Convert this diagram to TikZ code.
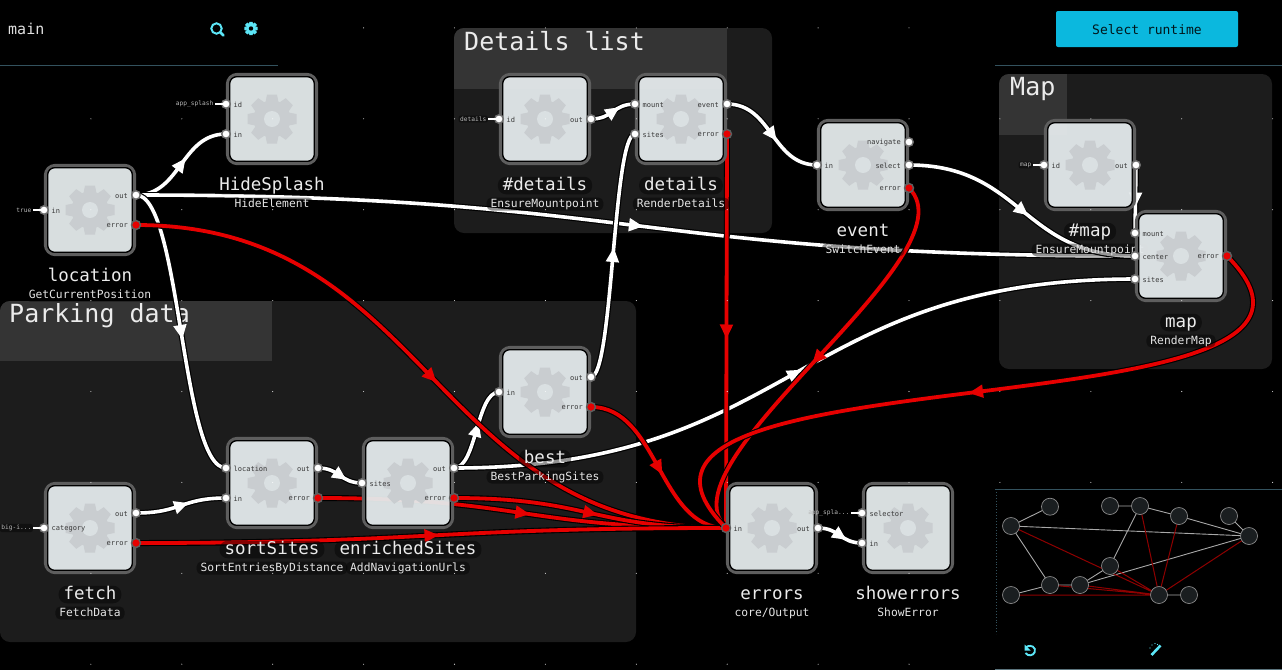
\documentclass[tikz,border=0pt]{standalone}
\usepackage{fontspec}
\setmainfont{DejaVu Sans Mono}
\usetikzlibrary{calc,decorations.markings}
\pgfdeclarelayer{groupsl}
\pgfdeclarelayer{wiresl}
\pgfsetlayers{groupsl,wiresl,main}
\definecolor{grpbg}{HTML}{1C1C1C}
\definecolor{grphd}{HTML}{343434}
\definecolor{ringc}{HTML}{5E5E5E}
\definecolor{nodefc}{HTML}{E4EAEC}
\definecolor{holec}{HTML}{DAE0E2}
\definecolor{gearc}{HTML}{C9CDD0}
\definecolor{redwire}{HTML}{E60000}
\definecolor{cyanic}{HTML}{5CE6F7}
\definecolor{linec}{HTML}{33525E}
\definecolor{btnc}{HTML}{0BB8DE}
\definecolor{mmnode}{HTML}{1A1E20}
\definecolor{mmred}{HTML}{8E0000}
\definecolor{mmgray}{HTML}{A8A8A8}
\tikzset{
  x=1pt,y=-1pt,
  flowbox/.style={draw=ringc,line width=3.2pt,rounded corners=10pt,minimum size=89.2pt,inner sep=0pt,fill=none},
  portw/.style={circle,fill=white,draw=ringc!90!white,line width=1.4pt,minimum size=8.5pt,inner sep=0pt},
  portr/.style={circle,fill=redwire,draw=ringc,line width=1.4pt,minimum size=9pt,inner sep=0pt},
  portlab/.style={text=black!78,font=\fontsize{7}{8}\selectfont,inner sep=0pt},
  namelab/.style={text=white!92!black,font=\fontsize{17.5}{20}\selectfont,fill=black,fill opacity=.42,text opacity=1,rounded corners=8pt,inner xsep=5pt,inner ysep=1.5pt,text height=12pt,text depth=2.5pt},
  sublab/.style={text=white!90!black,font=\fontsize{11.3}{13}\selectfont,fill=black,fill opacity=.42,text opacity=1,rounded corners=5pt,inner xsep=4pt,inner ysep=1pt,text height=8.5pt,text depth=2.5pt},
  extlab/.style={text=white!72!black,font=\fontsize{6.2}{7}\selectfont,fill=black,fill opacity=.42,text opacity=1,rounded corners=2pt,inner xsep=1.5pt,inner ysep=1pt},
  extbare/.style={text=white!72!black,font=\fontsize{6.2}{7}\selectfont,inner xsep=1.5pt,inner ysep=1pt},
  grouptitle/.style={text=white!92!black,font=\fontsize{25}{28}\selectfont,inner sep=0pt,anchor=west},
  headmark/.style={postaction={decorate,decoration={markings,mark=at position 0.5 with {\fill[fill=#1] (-6.5pt,-6.8pt)--(7.5pt,0pt)--(-6.5pt,6.8pt)--cycle;}}}},
  wirew/.style={preaction={draw=black,line width=6pt},draw=white,line width=3.6pt,headmark=white},
  wirer/.style={preaction={draw=black,line width=6pt},draw=redwire,line width=3.8pt,headmark=redwire},
  forward/.style={to path={let \p1=(\tikztostart),\p2=(\tikztotarget),\n1={0.5*(\x1+\x2)} in .. controls (\n1,\y1) and (\n1,\y2) .. (\tikztotarget)}},
  backward/.style={to path={let \p1=(\tikztostart),\p2=(\tikztotarget),\n1={0.37*(\x1-\x2)} in .. controls ([xshift=\n1,yshift=-\n1]\p1) and ([xshift=-\n1,yshift=\n1]\p2) .. (\tikztotarget)}},
  mmn/.style={circle,fill=mmnode,draw=gray!90,line width=.7pt,minimum size=17pt,inner sep=0pt},
  mmw/.style={draw=mmgray,line width=.9pt},
  mmr/.style={draw=mmred,line width=1pt},
  gearicon/.pic={
    \foreach \a in {0,45,...,315}{\fill[gearc,rotate=\a] (-6.6,-16)--(-5,-24.5)--(5,-24.5)--(6.6,-16)--cycle;}
    \fill[gearc] (0,0) circle (18.5);
    \fill[holec] (0,0) circle (8);
  }
}
\newcommand\flownode[5]{%
  \node[flowbox] (#1) at (#2,#3) {};
  \filldraw[draw=black,line width=1.3pt,fill=nodefc,fill opacity=.95,rounded corners=7pt] (#2-42.3,#3-42.3) rectangle (#2+42.3,#3+42.3);
  \pic at (#2,#3) {gearicon};
  \node[namelab] (#1-name) at (#2,#3+66.5) {#4};
  \node[sublab] (#1-sub) at (#2,#3+85) {#5};
}
\newcommand\inport[4]{% node, id, dy, label
  \node[portw] (#1-#2) at ([shift={(-46,#3)}]#1.center) {};
  \node[portlab,anchor=west] (#1-#2-lab) at ([shift={(-38.5,#3+.8)}]#1.center) {#4};
}
\newcommand\outport[4]{%
  \node[portw] (#1-#2) at ([shift={(46,#3)}]#1.center) {};
  \node[portlab,anchor=east] (#1-#2-lab) at ([shift={(38,#3+.8)}]#1.center) {#4};
}
\newcommand\errport[4]{%
  \node[portr] (#1-#2) at ([shift={(46,#3)}]#1.center) {};
  \node[portlab,anchor=east] (#1-#2-lab) at ([shift={(38,#3+.8)}]#1.center) {#4};
}
\newcommand\ext[3][extlab]{% style, port, text
  \node[#1,anchor=east] (#2-ext) at ([xshift=-11pt]#2.center) {#3};
  \draw[white,line width=1.2pt] (#2-ext.east) -- (#2.center);
}
\newcommand\ww[2]{\begin{pgfonlayer}{wiresl}\draw[wirew,forward] (#1.center) to (#2.center);\end{pgfonlayer}}
\newcommand\wl[2]{\begin{pgfonlayer}{wiresl}\draw[wirew] (#1.center) -- (#2.center);\end{pgfonlayer}}
\newcommand\rr[2]{\begin{pgfonlayer}{wiresl}\draw[wirer,forward] (#1.center) to (#2.center);\end{pgfonlayer}}
\newcommand\rb[2]{\begin{pgfonlayer}{wiresl}\draw[wirer,backward] (#1.center) to (#2.center);\end{pgfonlayer}}
\newcommand\rl[2]{\begin{pgfonlayer}{wiresl}\draw[wirer] (#1.center) -- (#2.center);\end{pgfonlayer}}
\begin{document}
\begin{tikzpicture}
\useasboundingbox (0,0) rectangle (1282,670);
\begin{pgfonlayer}{groupsl}
\fill[black] (0,0) rectangle (1282,670);
% groups
\fill[grpbg,rounded corners=10pt] (454,28) rectangle (772,233);
\begin{scope}
  \clip[rounded corners=10pt] (454,28) rectangle (772,233);
  \fill[grphd] (454,28) rectangle (727,89);
\end{scope}
\fill[grpbg,rounded corners=10pt] (999,74) rectangle (1272,369);
\begin{scope}
  \clip[rounded corners=10pt] (999,74) rectangle (1272,369);
  \fill[grphd] (999,74) rectangle (1067,135);
\end{scope}
\fill[grpbg,rounded corners=10pt] (0,301) rectangle (636,642);
\begin{scope}
  \clip[rounded corners=10pt] (0,301) rectangle (636,642);
  \fill[grphd] (0,301) rectangle (272,361);
\end{scope}
\node[grouptitle] (titledetails) at (464,41) {Details list};
\node[grouptitle] (titlemap) at (1010,89) {Map};
\node[grouptitle] (titleparking) at (9,315.5) {Parking data};
\end{pgfonlayer}
% nodes
\flownode{hidesplash}{272}{119}{HideSplash}{HideElement}
\flownode{location}{90}{210}{location}{GetCurrentPosition}
\flownode{hashdetails}{545}{119}{\#details}{EnsureMountpoint}
\flownode{details}{681}{119}{details}{RenderDetails}
\flownode{event}{863}{165}{event}{SwitchEvent}
\flownode{hashmap}{1090}{165}{\#map}{EnsureMountpoint}
\flownode{map}{1181}{256}{map}{RenderMap}
\flownode{best}{545}{392}{best}{BestParkingSites}
\flownode{sortsites}{272}{483}{sortSites}{SortEntriesByDistance}
\flownode{enriched}{408}{483}{enrichedSites}{AddNavigationUrls}
\flownode{fetch}{90}{528}{fetch}{FetchData}
\flownode{errors}{772}{528}{errors}{core/Output}
\flownode{showerrors}{908}{528}{showerrors}{ShowError}
% ports
\inport{hidesplash}{id}{-15}{id}\inport{hidesplash}{in}{15}{in}
\inport{location}{in}{0}{in}\outport{location}{out}{-15}{out}\errport{location}{error}{15}{error}
\inport{hashdetails}{id}{0}{id}\outport{hashdetails}{out}{0}{out}
\inport{details}{mount}{-15}{mount}\inport{details}{sites}{15}{sites}\outport{details}{event}{-15}{event}\errport{details}{error}{15}{error}
\inport{event}{in}{0}{in}\outport{event}{navigate}{-23}{navigate}\outport{event}{select}{0}{select}\errport{event}{error}{23}{error}
\inport{hashmap}{id}{0}{id}\outport{hashmap}{out}{0}{out}
\inport{map}{mount}{-23}{mount}\inport{map}{center}{0}{center}\inport{map}{sites}{23}{sites}\errport{map}{error}{0}{error}
\inport{best}{in}{0}{in}\outport{best}{out}{-15}{out}\errport{best}{error}{15}{error}
\inport{sortsites}{location}{-15}{location}\inport{sortsites}{in}{15}{in}\outport{sortsites}{out}{-15}{out}\errport{sortsites}{error}{15}{error}
\inport{enriched}{sites}{0}{sites}\outport{enriched}{out}{-15}{out}\errport{enriched}{error}{15}{error}
\inport{fetch}{category}{0}{category}\outport{fetch}{out}{-15}{out}\errport{fetch}{error}{15}{error}
\node[portr] (errors-in) at ([xshift=-46pt]errors.center) {};
\node[portlab,anchor=west] (errors-in-lab) at ([shift={(-38.5,.8)}]errors.center) {in};
\outport{errors}{out}{0}{out}
\inport{showerrors}{selector}{-15}{selector}\inport{showerrors}{in}{15}{in}
% IIP labels
\ext{location-in}{true}
\ext{hidesplash-id}{app\_splash}
\ext{hashdetails-id}{details}
\ext{hashmap-id}{map}
\ext{fetch-category}{big-i...}
\ext[extbare]{showerrors-selector}{app\_spla...}
% white wires
\ww{location-out}{hidesplash-in}
\ww{location-out}{map-center}
\ww{location-out}{sortsites-location}
\ww{fetch-out}{sortsites-in}
\ww{sortsites-out}{enriched-sites}
\ww{enriched-out}{best-in}
\ww{enriched-out}{map-sites}
\ww{best-out}{details-sites}
\ww{hashdetails-out}{details-mount}
\ww{details-event}{event-in}
\ww{event-select}{map-center}
\wl{hashmap-out}{map-mount}
\ww{errors-out}{showerrors-in}
% red wires
\rr{location-error}{errors-in}
\rr{best-error}{errors-in}
\rr{sortsites-error}{errors-in}
\rr{enriched-error}{errors-in}
\rr{fetch-error}{errors-in}
\rl{details-error}{errors-in}
\rb{event-error}{errors-in}
\rb{map-error}{errors-in}
% grid dots
\foreach \i in {1,...,14}{\foreach \j in {0,...,7}{\fill[white,opacity=.85] ({90.9*\i},{27.9+90.9*\j}) circle (.55);}}
% panels
\fill[black] (0,0) rectangle (279,65);
\fill[black] (995,0) rectangle (1282,65);
\fill[black] (996,489) rectangle (1282,670);
\draw[linec,line width=.9pt] (0,65.5) -- (278,65.5);
\draw[linec,line width=.9pt] (995,65.5) -- (1282,65.5);
\draw[linec,line width=.9pt] (995,489.5) -- (1282,489.5);
\draw[linec,line width=.9pt,dotted] (996.5,489) -- (996.5,634);
\draw[linec!80!white,line width=.9pt] (995,669.3) -- (1282,669.3);
\node[text=white!88!black,font=\fontsize{15}{17}\selectfont,inner sep=0pt,anchor=west] (graphname) at (8,29) {main};
% search icon
\draw[cyanic,line width=2pt] (216.5,28.5) circle (5.2);
\draw[cyanic,line width=2.6pt,line cap=round] (220.5,32.5) -- (223.5,35.5);
% settings icon
\begin{scope}[shift={(251,28.5)},scale=.275]
  \foreach \a in {0,45,...,315}{\fill[cyanic,rotate=\a] (-7,-16)--(-6,-24.5)--(6,-24.5)--(7,-16)--cycle;}
  \fill[cyanic] (0,0) circle (18.5);
  \fill[black] (0,0) circle (8);
\end{scope}
% runtime button
\node[fill=btnc,rounded corners=2pt,minimum width=182pt,minimum height=36pt,inner sep=0pt] (runtime) at (1147,29) {};
\node[text=black!88!btnc,font=\fontsize{13}{15}\selectfont,inner sep=0pt] (runtimetext) at (1147,30) {Select runtime};
% minimap
\begin{scope}
\coordinate (ma) at (1011,526);
\coordinate (mb) at (1050,506.7);
\coordinate (mc) at (1110,506);
\coordinate (md) at (1140,506);
\coordinate (me) at (1179,516);
\coordinate (mf) at (1229,516);
\coordinate (mg) at (1249,536);
\coordinate (mh) at (1110,566);
\coordinate (mi) at (1050,585);
\coordinate (mj) at (1080,585);
\coordinate (mk) at (1011,595);
\coordinate (ml) at (1159,595);
\coordinate (mm) at (1189,595);
\draw[mmw] (ma)--(mb) (ma)--(mg) (ma)--(mi) (mk)--(mi) (mi)--(mj) (mj)--(mh) (mj)--(mg) (mh)--(md) (mc)--(md) (md)--(me) (me)--(mg) (mf)--(mg) (ml)--(mm);
\draw[mmr] (ma)--(ml) (mh)--(ml) (mi)--(ml) (mj)--(ml) (mk)--(ml) (md)--(ml) (me)--(ml) (mg)--(ml);
\foreach \p in {ma,mb,mc,md,me,mf,mg,mh,mi,mj,mk,ml,mm}{\node[mmn] (\p-dot) at (\p) {};}
\end{scope}
% reset icon
\draw[cyanic,line width=1.9pt] (1026.2,647.2) .. controls (1027.5,645.7) and (1033,644.6) .. (1034.8,649) .. controls (1036,654) and (1031,656.2) .. (1028,655) .. controls (1027,654.7) and (1026,654) .. (1025.5,653);
\fill[cyanic] (1024.5,644.5) -- (1024.5,650.5) -- (1030.5,650.5) -- cycle;
% wand icon
\draw[cyanic,line width=2.6pt] (1151.5,655) -- (1160.5,645.5);
\fill[cyanic] (1152,645) circle (.6) (1155,643.5) circle (.6) (1157.5,644.5) circle (.6) (1150,648) circle (.6);
\end{tikzpicture}
\end{document}
